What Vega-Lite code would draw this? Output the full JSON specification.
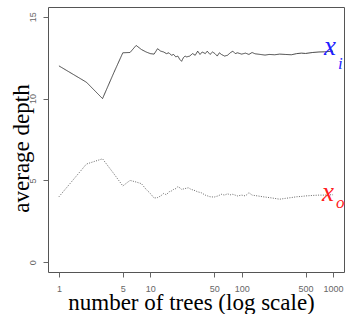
{
  "$schema": "https://vega.github.io/schema/vega-lite/v6.json",
  "width": 296,
  "height": 265,
  "autosize": "none",
  "padding": {"left": 48, "top": 7, "right": 2, "bottom": 42},
  "background": "white",
  "config": {
    "view": {"stroke": "#555", "strokeWidth": 1},
    "axis": {"grid": false, "domain": false, "tickSize": 5, "tickColor": "#666", "labelColor": "#666", "labelFont": "Liberation Sans", "labelFontSize": 9, "titleFont": "Liberation Serif", "titleFontSize": 23, "titleFontWeight": "normal", "titleColor": "#000"}
  },
  "datasets": {
    "depth": [
      {"n": 1, "v": 12.0, "series": "inbag"}, {"n": 2, "v": 11.0, "series": "inbag"}, {"n": 3, "v": 10.0, "series": "inbag"}, {"n": 4, "v": 11.6, "series": "inbag"}, {"n": 5, "v": 12.8, "series": "inbag"}, {"n": 6, "v": 12.82, "series": "inbag"}, {"n": 7, "v": 13.25, "series": "inbag"}, {"n": 8, "v": 13.0, "series": "inbag"}, {"n": 9, "v": 12.85, "series": "inbag"}, {"n": 10, "v": 12.75, "series": "inbag"}, {"n": 11, "v": 12.72, "series": "inbag"}, {"n": 12, "v": 13.05, "series": "inbag"}, {"n": 13, "v": 12.9, "series": "inbag"}, {"n": 14, "v": 12.85, "series": "inbag"}, {"n": 15, "v": 12.75, "series": "inbag"}, {"n": 16, "v": 12.8, "series": "inbag"}, {"n": 17, "v": 12.65, "series": "inbag"}, {"n": 18, "v": 12.7, "series": "inbag"}, {"n": 19, "v": 12.55, "series": "inbag"}, {"n": 20, "v": 12.6, "series": "inbag"}, {"n": 21, "v": 12.4, "series": "inbag"}, {"n": 22, "v": 12.28, "series": "inbag"}, {"n": 23, "v": 12.5, "series": "inbag"}, {"n": 24, "v": 12.6, "series": "inbag"}, {"n": 25, "v": 12.55, "series": "inbag"}, {"n": 27, "v": 12.6, "series": "inbag"}, {"n": 29, "v": 12.75, "series": "inbag"}, {"n": 31, "v": 12.65, "series": "inbag"}, {"n": 33, "v": 12.9, "series": "inbag"}, {"n": 35, "v": 12.7, "series": "inbag"}, {"n": 37, "v": 12.85, "series": "inbag"}, {"n": 40, "v": 12.75, "series": "inbag"}, {"n": 42, "v": 12.9, "series": "inbag"}, {"n": 45, "v": 12.7, "series": "inbag"}, {"n": 48, "v": 12.85, "series": "inbag"}, {"n": 51, "v": 12.75, "series": "inbag"}, {"n": 54, "v": 12.6, "series": "inbag"}, {"n": 57, "v": 12.8, "series": "inbag"}, {"n": 60, "v": 12.7, "series": "inbag"}, {"n": 65, "v": 12.6, "series": "inbag"}, {"n": 70, "v": 12.65, "series": "inbag"}, {"n": 75, "v": 12.8, "series": "inbag"}, {"n": 80, "v": 12.9, "series": "inbag"}, {"n": 85, "v": 12.75, "series": "inbag"}, {"n": 90, "v": 12.8, "series": "inbag"}, {"n": 100, "v": 12.72, "series": "inbag"}, {"n": 110, "v": 12.78, "series": "inbag"}, {"n": 120, "v": 12.7, "series": "inbag"}, {"n": 130, "v": 12.82, "series": "inbag"}, {"n": 140, "v": 12.74, "series": "inbag"}, {"n": 160, "v": 12.7, "series": "inbag"}, {"n": 180, "v": 12.66, "series": "inbag"}, {"n": 200, "v": 12.7, "series": "inbag"}, {"n": 230, "v": 12.68, "series": "inbag"}, {"n": 260, "v": 12.72, "series": "inbag"}, {"n": 300, "v": 12.7, "series": "inbag"}, {"n": 350, "v": 12.68, "series": "inbag"}, {"n": 400, "v": 12.75, "series": "inbag"}, {"n": 450, "v": 12.78, "series": "inbag"}, {"n": 500, "v": 12.76, "series": "inbag"}, {"n": 600, "v": 12.82, "series": "inbag"}, {"n": 700, "v": 12.85, "series": "inbag"}, {"n": 800, "v": 12.86, "series": "inbag"}, {"n": 900, "v": 12.88, "series": "inbag"}, {"n": 1000, "v": 12.9, "series": "inbag"},
      {"n": 1, "v": 4.0, "series": "oob"}, {"n": 2, "v": 6.0, "series": "oob"}, {"n": 3, "v": 6.32, "series": "oob"}, {"n": 4, "v": 5.4, "series": "oob"}, {"n": 5, "v": 4.66, "series": "oob"}, {"n": 6, "v": 5.0, "series": "oob"}, {"n": 7, "v": 4.9, "series": "oob"}, {"n": 8, "v": 4.8, "series": "oob"}, {"n": 9, "v": 4.45, "series": "oob"}, {"n": 10, "v": 4.2, "series": "oob"}, {"n": 11, "v": 3.92, "series": "oob"}, {"n": 12, "v": 3.95, "series": "oob"}, {"n": 13, "v": 4.05, "series": "oob"}, {"n": 14, "v": 4.2, "series": "oob"}, {"n": 15, "v": 4.12, "series": "oob"}, {"n": 16, "v": 4.3, "series": "oob"}, {"n": 17, "v": 4.35, "series": "oob"}, {"n": 18, "v": 4.45, "series": "oob"}, {"n": 19, "v": 4.5, "series": "oob"}, {"n": 20, "v": 4.62, "series": "oob"}, {"n": 21, "v": 4.55, "series": "oob"}, {"n": 22, "v": 4.45, "series": "oob"}, {"n": 24, "v": 4.5, "series": "oob"}, {"n": 26, "v": 4.55, "series": "oob"}, {"n": 28, "v": 4.45, "series": "oob"}, {"n": 30, "v": 4.4, "series": "oob"}, {"n": 33, "v": 4.3, "series": "oob"}, {"n": 36, "v": 4.25, "series": "oob"}, {"n": 40, "v": 4.1, "series": "oob"}, {"n": 45, "v": 4.0, "series": "oob"}, {"n": 50, "v": 3.98, "series": "oob"}, {"n": 55, "v": 4.05, "series": "oob"}, {"n": 60, "v": 4.15, "series": "oob"}, {"n": 65, "v": 4.1, "series": "oob"}, {"n": 70, "v": 4.18, "series": "oob"}, {"n": 75, "v": 4.12, "series": "oob"}, {"n": 80, "v": 4.15, "series": "oob"}, {"n": 90, "v": 4.05, "series": "oob"}, {"n": 100, "v": 4.1, "series": "oob"}, {"n": 110, "v": 4.05, "series": "oob"}, {"n": 120, "v": 4.25, "series": "oob"}, {"n": 130, "v": 4.1, "series": "oob"}, {"n": 150, "v": 4.05, "series": "oob"}, {"n": 170, "v": 4.0, "series": "oob"}, {"n": 200, "v": 3.95, "series": "oob"}, {"n": 230, "v": 3.9, "series": "oob"}, {"n": 260, "v": 3.85, "series": "oob"}, {"n": 300, "v": 3.9, "series": "oob"}, {"n": 350, "v": 3.95, "series": "oob"}, {"n": 400, "v": 4.0, "series": "oob"}, {"n": 450, "v": 4.02, "series": "oob"}, {"n": 500, "v": 4.05, "series": "oob"}, {"n": 600, "v": 4.08, "series": "oob"}, {"n": 700, "v": 4.1, "series": "oob"}, {"n": 800, "v": 4.1, "series": "oob"}, {"n": 900, "v": 4.12, "series": "oob"}, {"n": 1000, "v": 4.12, "series": "oob"}
    ],
    "mainlabels": [
      {"n": 796, "v": 12.67, "s": "i", "t": "x"},
      {"n": 757, "v": 3.74, "s": "o", "t": "x"}
    ],
    "sublabels": [
      {"n": 1132, "v": 11.81, "s": "i", "t": "i"},
      {"n": 1076, "v": 3.31, "s": "o", "t": "o"}
    ]
  },
  "encoding": {
    "x": {
      "field": "n", "type": "quantitative",
      "scale": {"type": "log", "domain": [0.759, 1318], "nice": false},
      "axis": {"values": [1, 5, 10, 50, 100, 500, 1000], "format": "d", "labelPadding": 7, "labelFlush": false, "labelOverlap": false, "title": "number of trees (log scale)", "titleX": 143, "titleY": 37, "titleAlign": "center", "titleBaseline": "alphabetic"}
    },
    "y": {
      "field": "v", "type": "quantitative",
      "scale": {"domain": [-0.6, 15.6], "nice": false, "zero": false},
      "axis": {"values": [0, 5, 10, 15], "labelAngle": 270, "labelAlign": "center", "labelBaseline": "bottom", "labelPadding": 6, "labelFlush": false, "labelOverlap": false, "title": "average depth", "titleAngle": 270, "titleX": -20, "titleY": 141, "titleAlign": "center", "titleBaseline": "alphabetic"}
    }
  },
  "layer": [
    {
      "data": {"name": "depth"},
      "mark": {"type": "line", "color": "#444", "strokeWidth": 1},
      "encoding": {
        "detail": {"field": "series"},
        "strokeDash": {"field": "series", "type": "nominal", "scale": {"domain": ["inbag", "oob"], "range": [[1, 0], [1, 1.4]]}, "legend": null},
        "opacity": {"field": "series", "type": "nominal", "scale": {"domain": ["inbag", "oob"], "range": [1, 0.8]}, "legend": null}
      }
    },
    {
      "data": {"name": "mainlabels"},
      "mark": {"type": "text", "font": "Liberation Serif", "fontStyle": "italic", "fontSize": 27, "align": "left", "baseline": "alphabetic"},
      "encoding": {
        "text": {"field": "t"},
        "color": {"field": "s", "type": "nominal", "scale": {"domain": ["i", "o"], "range": ["#1f1fff", "#ff2020"]}, "legend": null}
      }
    },
    {
      "data": {"name": "sublabels"},
      "mark": {"type": "text", "font": "Liberation Serif", "fontStyle": "italic", "fontSize": 17, "align": "left", "baseline": "alphabetic"},
      "encoding": {
        "text": {"field": "t"},
        "color": {"field": "s", "type": "nominal", "scale": {"domain": ["i", "o"], "range": ["#1f1fff", "#ff2020"]}, "legend": null}
      }
    }
  ]
}
